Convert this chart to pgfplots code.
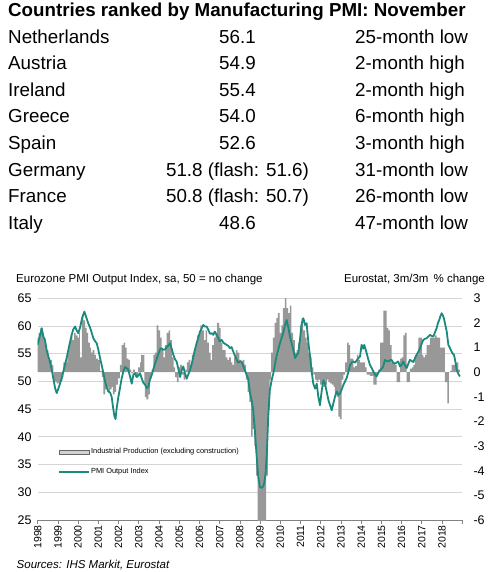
\documentclass[border=0pt]{standalone}
\usepackage{pgfplots}
\usepackage{pgfplotstable}
\pgfplotsset{compat=1.18}
\usepackage{fontspec}
\setmainfont{Liberation Sans}
\setsansfont{Liberation Sans}
\definecolor{pmiteal}{RGB}{26,138,125}
\definecolor{bargray}{RGB}{152,152,152}
\definecolor{gridgray}{RGB}{212,212,212}
\definecolor{axisgray}{RGB}{130,130,130}

% Eurozone PMI Output Index (left axis)
\pgfplotstableread{
x y
1998.00 56.6
1998.08 57.8
1998.20 59.6
1998.28 58.1
1998.36 57.5
1998.45 55.5
1998.60 53.6
1998.70 52.0
1998.77 50.6
1998.86 48.8
1998.94 47.9
1999.05 49.0
1999.19 50.6
1999.30 52.3
1999.43 54.2
1999.55 56.3
1999.68 58.4
1999.76 59.4
1999.85 59.9
1999.93 59.2
2000.01 58.7
2000.10 59.8
2000.20 61.5
2000.31 62.6
2000.40 61.6
2000.50 60.5
2000.58 59.8
2000.67 58.8
2000.75 57.8
2000.85 57.2
2000.92 56.9
2001.00 55.7
2001.08 54.3
2001.16 53.0
2001.25 51.5
2001.33 50.0
2001.41 49.0
2001.49 48.2
2001.58 48.0
2001.66 47.2
2001.72 45.5
2001.79 43.8
2001.85 43.2
2001.90 45.0
2001.98 47.0
2002.07 48.8
2002.15 50.5
2002.25 52.0
2002.32 52.6
2002.40 52.4
2002.48 52.1
2002.56 51.0
2002.65 49.6
2002.73 51.2
2002.81 51.5
2002.90 50.8
2002.98 51.1
2003.06 51.5
2003.14 50.6
2003.22 49.8
2003.31 49.4
2003.39 48.8
2003.47 49.0
2003.55 50.3
2003.64 51.2
2003.72 52.2
2003.80 53.2
2003.88 54.0
2003.97 55.0
2004.05 55.8
2004.13 56.0
2004.21 55.7
2004.30 55.8
2004.38 56.2
2004.46 56.5
2004.54 56.9
2004.62 56.0
2004.71 54.8
2004.79 54.0
2004.87 53.6
2004.96 52.2
2005.04 50.8
2005.12 52.0
2005.20 52.7
2005.28 51.5
2005.37 50.5
2005.45 51.3
2005.53 52.0
2005.62 53.2
2005.70 54.5
2005.78 55.8
2005.86 56.9
2005.95 58.0
2006.03 59.0
2006.11 59.6
2006.19 60.2
2006.27 59.9
2006.36 59.9
2006.44 59.3
2006.52 58.6
2006.60 58.7
2006.68 58.4
2006.76 59.0
2006.85 58.4
2006.93 57.8
2007.01 57.2
2007.10 57.5
2007.18 57.0
2007.26 56.8
2007.34 56.6
2007.43 56.4
2007.51 56.0
2007.59 56.2
2007.67 55.4
2007.76 54.6
2007.84 53.9
2007.92 53.4
2008.00 53.6
2008.08 53.6
2008.17 52.8
2008.25 52.0
2008.33 51.2
2008.41 50.5
2008.50 47.9
2008.58 46.6
2008.66 44.8
2008.74 41.2
2008.83 36.4
2008.91 32.8
2008.99 31.0
2009.07 30.8
2009.14 31.0
2009.20 31.6
2009.27 33.4
2009.34 37.6
2009.40 43.6
2009.48 48.4
2009.57 50.2
2009.65 51.4
2009.73 53.0
2009.81 54.5
2009.90 55.8
2009.98 56.9
2010.06 57.8
2010.14 58.7
2010.22 60.0
2010.31 61.1
2010.39 59.8
2010.48 58.1
2010.56 56.9
2010.64 55.7
2010.73 54.2
2010.81 54.8
2010.89 55.1
2010.97 57.5
2011.06 60.5
2011.14 61.4
2011.22 60.2
2011.30 60.5
2011.39 56.9
2011.47 54.5
2011.55 51.8
2011.63 49.6
2011.72 48.7
2011.80 49.6
2011.88 47.2
2011.96 45.7
2012.05 48.4
2012.13 50.2
2012.21 49.6
2012.30 48.0
2012.38 46.6
2012.46 45.7
2012.54 44.8
2012.62 46.0
2012.70 47.2
2012.79 48.2
2012.87 47.6
2012.95 47.8
2013.04 48.6
2013.12 49.4
2013.20 50.0
2013.28 50.6
2013.37 51.8
2013.45 53.0
2013.53 53.4
2013.61 53.6
2013.70 53.4
2013.78 53.8
2013.86 54.2
2013.94 54.5
2014.02 56.6
2014.10 55.9
2014.15 56.6
2014.27 55.1
2014.35 54.0
2014.43 53.0
2014.52 52.4
2014.60 51.8
2014.68 51.3
2014.76 50.9
2014.85 51.6
2014.93 52.0
2015.01 52.3
2015.09 52.7
2015.17 53.9
2015.25 53.7
2015.34 53.6
2015.42 53.8
2015.50 53.9
2015.58 53.4
2015.67 53.2
2015.75 53.4
2015.83 53.6
2015.92 52.7
2016.00 53.0
2016.08 53.6
2016.16 53.0
2016.25 52.4
2016.33 53.2
2016.41 53.9
2016.49 53.7
2016.58 53.5
2016.66 54.2
2016.74 54.8
2016.83 55.4
2016.91 56.0
2016.99 56.8
2017.07 57.5
2017.16 57.7
2017.24 57.8
2017.32 58.1
2017.40 58.4
2017.49 58.2
2017.57 58.1
2017.65 58.9
2017.73 59.6
2017.80 60.6
2017.86 61.1
2017.92 61.8
2017.98 62.3
2018.04 61.9
2018.09 61.4
2018.16 60.2
2018.23 59.0
2018.31 56.6
2018.39 56.0
2018.47 55.4
2018.53 55.0
2018.59 54.8
2018.66 53.5
2018.72 52.1
2018.80 51.4
2018.88 50.9
}\pmidata

% Industrial production, 3m/3m % change (right axis)
\pgfplotstableread{
x y
1998.00 1.4
1998.05 1.6
1998.13 1.8
1998.20 1.6
1998.28 1.4
1998.36 1.1
1998.45 0.9
1998.53 0.5
1998.62 0.5
1998.70 0.3
1998.77 -0.35
1998.87 -0.4
1998.95 -0.45
1999.05 -0.4
1999.13 -0.35
1999.22 -0.2
1999.27 0.4
1999.38 0.4
1999.47 0.8
1999.55 1.2
1999.63 1.5
1999.72 1.3
1999.80 1.6
1999.88 1.5
1999.97 1.4
2000.05 1.6
2000.09 0.6
2000.18 2.3
2000.26 2.1
2000.34 1.8
2000.42 1.6
2000.50 1.2
2000.58 1.0
2000.64 0.8
2000.72 0.9
2000.80 0.7
2000.88 0.55
2000.97 0.5
2001.08 0.05
2001.17 -0.2
2001.25 -0.9
2001.33 -0.7
2001.41 -0.6
2001.49 -0.8
2001.57 -0.7
2001.65 -0.6
2001.72 -0.9
2001.80 -0.8
2001.88 -0.5
2001.97 -0.25
2002.07 0.3
2002.15 1.1
2002.25 1.2
2002.32 1.0
2002.40 0.55
2002.48 0.5
2002.56 0.1
2002.63 -0.05
2002.72 0.1
2002.81 -0.2
2002.90 -0.15
2002.97 0.2
2003.06 0.4
2003.11 0.7
2003.27 -0.5
2003.30 -1.0
2003.38 -1.1
2003.47 -0.9
2003.55 -0.25
2003.63 0.1
2003.72 0.7
2003.80 0.8
2003.88 1.9
2003.97 1.7
2004.05 1.4
2004.13 0.9
2004.22 0.6
2004.30 1.1
2004.38 1.6
2004.47 1.7
2004.55 1.3
2004.63 0.6
2004.72 0.2
2004.80 -0.2
2004.88 -0.4
2004.97 0.2
2005.05 0.3
2005.13 -0.1
2005.22 -0.3
2005.30 0.1
2005.38 0.4
2005.47 0.5
2005.55 0.3
2005.63 0.7
2005.72 0.9
2005.80 1.1
2005.88 1.5
2005.97 1.6
2006.05 1.9
2006.13 1.7
2006.22 1.3
2006.30 1.7
2006.38 1.2
2006.47 0.8
2006.55 0.5
2006.63 1.1
2006.72 1.4
2006.80 1.6
2006.88 2.0
2006.97 1.8
2007.05 1.2
2007.13 0.9
2007.22 0.9
2007.30 0.6
2007.38 0.5
2007.47 0.6
2007.55 0.4
2007.63 0.3
2007.72 0.6
2007.80 0.9
2007.88 0.8
2007.97 0.5
2008.05 0.4
2008.13 0.5
2008.22 0.3
2008.30 -0.3
2008.38 -0.8
2008.47 -1.2
2008.55 -2.6
2008.63 -2.3
2008.72 -3.0
2008.80 -4.2
2008.88 -6.5
2008.97 -7.0
2009.05 -7.0
2009.13 -6.8
2009.22 -6.2
2009.30 -4.2
2009.38 -1.5
2009.47 -0.3
2009.55 0.8
2009.63 1.4
2009.72 2.0
2009.80 2.2
2009.88 2.4
2009.97 1.6
2010.05 1.9
2010.13 2.6
2010.22 3.1
2010.30 2.6
2010.38 2.4
2010.47 2.7
2010.55 1.6
2010.63 1.3
2010.72 0.8
2010.80 0.9
2010.88 1.2
2010.97 1.9
2011.05 2.2
2011.13 1.7
2011.22 1.4
2011.30 1.2
2011.38 0.8
2011.47 0.6
2011.55 0.2
2011.63 -0.1
2011.72 -0.3
2011.80 -0.4
2011.88 -0.3
2011.97 -0.5
2012.05 -0.4
2012.13 -0.6
2012.22 -0.5
2012.30 -0.3
2012.38 -0.4
2012.46 -0.45
2012.55 -0.5
2012.63 -0.6
2012.70 -0.9
2012.80 -1.0
2012.87 -1.8
2012.95 -1.9
2013.03 -0.3
2013.12 -0.1
2013.20 0.4
2013.30 1.2
2013.38 1.1
2013.45 0.55
2013.61 0.2
2013.70 0.25
2013.78 0.7
2013.86 0.5
2013.94 0.4
2014.05 0.4
2014.19 0.2
2014.27 -0.1
2014.43 -0.15
2014.60 -0.5
2014.68 -0.5
2014.76 -0.1
2014.85 0.1
2014.93 1.2
2015.01 1.2
2015.10 2.5
2015.18 2.5
2015.26 1.8
2015.34 1.7
2015.42 1.1
2015.50 0.4
2015.58 0.4
2015.67 0.3
2015.75 -0.4
2015.83 -0.4
2015.92 0.55
2016.00 0.6
2016.08 1.5
2016.16 1.6
2016.25 -0.4
2016.33 -0.4
2016.41 0.15
2016.50 0.2
2016.58 0.3
2016.66 0.7
2016.75 0.7
2016.83 1.4
2016.92 1.4
2017.00 0.7
2017.08 0.6
2017.16 0.7
2017.24 1.1
2017.32 1.1
2017.40 1.4
2017.49 1.4
2017.57 1.4
2017.65 1.5
2017.73 1.4
2017.82 1.4
2017.90 1.0
2017.98 1.0
2018.06 1.0
2018.14 -0.4
2018.22 -0.4
2018.26 -1.27
2018.34 0.0
2018.40 0.05
2018.47 0.3
2018.56 0.3
2018.64 0.4
2018.72 0.4
2018.80 0.1
2018.88 0.1
}\ipdata

\begin{document}
\begin{tikzpicture}
\path[use as bounding box, fill=white] (0pt,0pt) rectangle (500pt,-572pt);

% ---- table ----
\node[anchor=base west, inner sep=0pt, font=\fontsize{18.75}{21}\selectfont\bfseries] at (8pt,-17pt) {Countries ranked by Manufacturing PMI: November};
\begin{scope}[every node/.style={inner sep=0pt, font=\fontsize{18.8}{21}\selectfont}]
\node[anchor=base west] at (8pt,-43.3pt) {Netherlands};
\node[anchor=base west] at (8pt,-69.9pt) {Austria};
\node[anchor=base west] at (8pt,-96.4pt) {Ireland};
\node[anchor=base west] at (8pt,-123.0pt) {Greece};
\node[anchor=base west] at (8pt,-149.6pt) {Spain};
\node[anchor=base west] at (8pt,-176.2pt) {Germany};
\node[anchor=base west] at (8pt,-202.7pt) {France};
\node[anchor=base west] at (8pt,-229.3pt) {Italy};
\node[anchor=base] at (237.5pt,-43.3pt) {56.1};
\node[anchor=base] at (237.5pt,-69.9pt) {54.9};
\node[anchor=base] at (237.5pt,-96.4pt) {55.4};
\node[anchor=base] at (237.5pt,-123.0pt) {54.0};
\node[anchor=base] at (237.5pt,-149.6pt) {52.6};
\node[anchor=base] at (237.5pt,-176.2pt) {51.8 (flash: 51.6)};
\node[anchor=base] at (237.5pt,-202.7pt) {50.8 (flash: 50.7)};
\node[anchor=base] at (237.5pt,-229.3pt) {48.6};
\node[anchor=base west] at (355pt,-43.3pt) {25-month low};
\node[anchor=base west] at (355pt,-69.9pt) {2-month high};
\node[anchor=base west] at (355pt,-96.4pt) {2-month high};
\node[anchor=base west] at (355pt,-123.0pt) {6-month high};
\node[anchor=base west] at (355pt,-149.6pt) {3-month high};
\node[anchor=base west] at (355pt,-176.2pt) {31-month low};
\node[anchor=base west] at (355pt,-202.7pt) {26-month low};
\node[anchor=base west] at (355pt,-229.3pt) {47-month low};
\end{scope}

% ---- chart headers ----
\node[anchor=base west, inner sep=0pt, font=\fontsize{11.5}{13}\selectfont] at (16pt,-282.3pt) {Eurozone PMI Output Index, sa, 50 = no change};
\node[anchor=base east, inner sep=0pt, font=\fontsize{11.5}{13}\selectfont] at (485pt,-282.3pt) {Eurostat, 3m/3m \,\% change};
\node[anchor=base west, inner sep=0pt, font=\fontsize{11.5}{13}\selectfont\itshape] at (16.5pt,-568pt) {Sources: IHS Markit, Eurostat};

% ---- base axis: grid, left ticks, years ----
\begin{axis}[
  at={(37.7pt,-520pt)}, anchor=south west,
  scale only axis, width=424.6pt, height=221.7pt,
  xmin=1998, xmax=2019, ymin=25, ymax=65,
  axis x line*=bottom, axis y line*=left,
  y axis line style={draw=none},
  x axis line style={draw=axisgray, line width=0.9pt, -},
  ytick={25,30,...,65},
  yticklabels={25,30,35,40,45,50,55,60,65},
  major y tick style={draw=none},
  ytick align=inside,
  ymajorgrids, y grid style={gridgray, line width=0.9pt},
  xtick={1998,1999,...,2019},
  xticklabels={1998,1999,2000,2001,2002,2003,2004,2005,2006,2007,2008,2009,2010,2011,2012,2013,2014,2015,2016,2017,2018,{}},
  xtick align=outside, major tick length=3.5pt,
  x tick style={draw=axisgray, line width=0.7pt},
  xticklabel style={rotate=90, anchor=east, font=\fontsize{10.5}{12}\selectfont, inner sep=1.5pt},
  yticklabel style={font=\fontsize{12.5}{14}\selectfont, inner sep=0pt, xshift=-6pt},
]
\addplot[draw=none] coordinates {(1998,25)};
\end{axis}

% ---- bars: industrial production, right axis ----
\begin{axis}[
  at={(37.7pt,-520pt)}, anchor=south west,
  scale only axis, width=424.6pt, height=221.7pt,
  xmin=1998, xmax=2019, ymin=-6, ymax=3,
  axis x line=none, axis y line*=right,
  y axis line style={draw=none},
  ytick={-6,-5,...,3},
  yticklabels={-6,-5,-4,-3,-2,-1,0,1,2,3},
  major y tick style={draw=none},
  ytick align=inside,
  yticklabel style={font=\fontsize{12.5}{14}\selectfont, anchor=west, inner sep=0pt, xshift=11pt},
]
\addplot[const plot mark left, fill=bargray, draw=none] table {\ipdata} \closedcycle;
\end{axis}

% ---- PMI line + legend ----
\begin{axis}[
  at={(37.7pt,-520pt)}, anchor=south west,
  scale only axis, width=424.6pt, height=221.7pt,
  xmin=1998, xmax=2019, ymin=25, ymax=65,
  hide axis,
  legend cell align=left,
  legend style={at={(0.048,0.262)}, anchor=west, draw=none, fill=none,
    font=\fontsize{7.4}{8.5}\selectfont, row sep=11pt, inner xsep=0pt, inner ysep=0pt,
    nodes={inner sep=1pt}},
]
\addlegendimage{legend image code/.code={\draw[fill=gray!35, draw=gray!80!black, line width=0.5pt] (0pt,-1.8pt) rectangle (30pt,1.8pt);}}
\addlegendentry{Industrial Production (excluding construction)}
\addplot[pmiteal, line width=1.8pt, line join=round,
  legend image code/.code={\draw[pmiteal, line width=1.8pt] (0pt,0pt) -- (30pt,0pt);}] table {\pmidata};
\addlegendentry{PMI Output Index}
\end{axis}
\end{tikzpicture}
\end{document}
